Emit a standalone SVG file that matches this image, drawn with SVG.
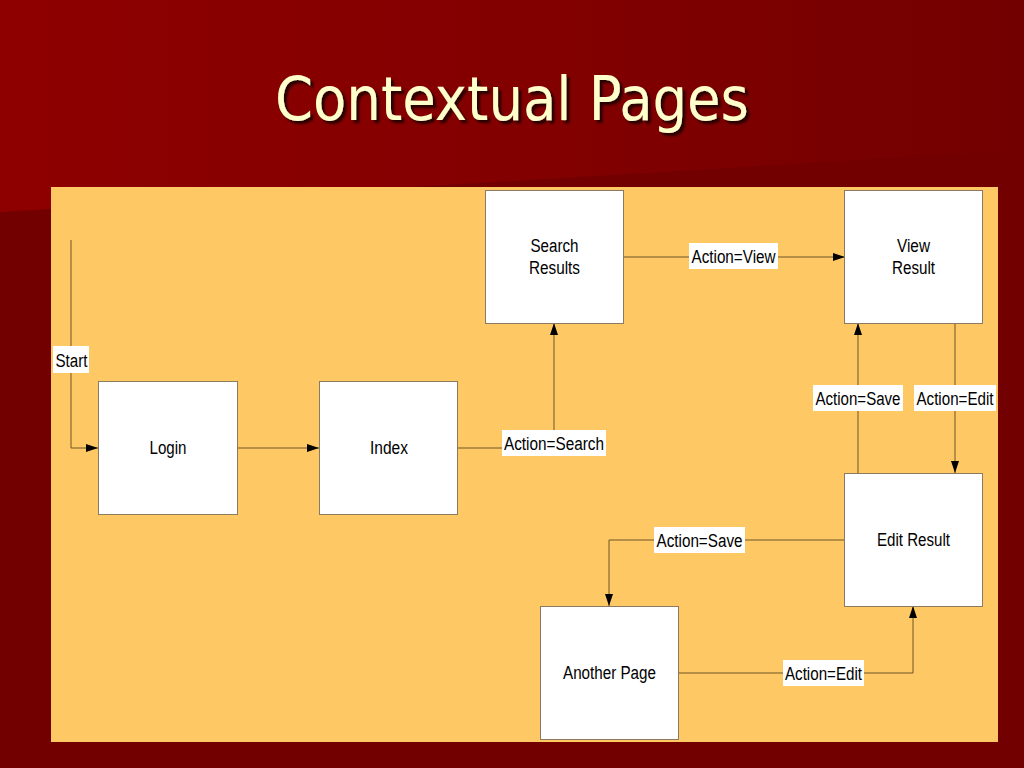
<svg xmlns="http://www.w3.org/2000/svg" width="1024" height="768" viewBox="0 0 1024 768">
<defs>
<linearGradient id="topg" x1="0" y1="0" x2="1" y2="0">
<stop offset="0" stop-color="#8e0000"/>
<stop offset="0.5" stop-color="#830000"/>
<stop offset="1" stop-color="#730000"/>
</linearGradient>
<marker id="arr" viewBox="0 0 12 8" refX="12" refY="4" markerWidth="12" markerHeight="8" markerUnits="userSpaceOnUse" orient="auto">
<path d="M0,0 L12,4 L0,8 Z" fill="#000"/>
</marker>
<filter id="sh" x="-5%" y="-20%" width="110%" height="140%">
<feDropShadow dx="3" dy="3" stdDeviation="1" flood-color="#1a0000" flood-opacity="0.9"/>
</filter>
</defs>
<style>
.node rect{fill:#ffffff;stroke:#8c7a60;stroke-width:1}
.node text{font-family:"Liberation Sans",Arial,sans-serif;font-size:18px;fill:#000;text-anchor:middle}
.conn path{fill:none;stroke:#6e5428;stroke-width:1}
.lbl rect{fill:#ffffff}
.lbl text{font-family:"Liberation Sans",Arial,sans-serif;font-size:18px;fill:#000;text-anchor:middle}
</style>
<rect width="1024" height="768" fill="#730000"/>
<path d="M0,0 H1024 V150 L0,212 Z" fill="url(#topg)"/>
<text x="512" y="120" font-family="'DejaVu Sans',Verdana,sans-serif" font-size="60" fill="#ffffcc" text-anchor="middle" textLength="474" lengthAdjust="spacingAndGlyphs" filter="url(#sh)">Contextual Pages</text>
<rect x="51" y="187" width="947" height="555" fill="#fec965"/>

<g id="connectors" class="conn">
<path d="M71,240 V448 H98" marker-end="url(#arr)"/>
<path d="M237,448 H319" marker-end="url(#arr)"/>
<path d="M457,448 H554 V323" marker-end="url(#arr)"/>
<path d="M623,257 H845" marker-end="url(#arr)"/>
<path d="M858,473 V323" marker-end="url(#arr)"/>
<path d="M955,323 V473" marker-end="url(#arr)"/>
<path d="M845,540 H609 V606" marker-end="url(#arr)"/>
<path d="M678,673 H913 V606" marker-end="url(#arr)"/>
</g>

<g id="labels" class="lbl">
<g id="lbl-start"><rect x="53" y="346" width="36" height="27"/><text x="71.5" y="367" textLength="32" lengthAdjust="spacingAndGlyphs">Start</text></g>
<g id="lbl-search"><rect x="502" y="430" width="104" height="26"/><text x="554" y="450" textLength="100" lengthAdjust="spacingAndGlyphs">Action=Search</text></g>
<g id="lbl-view"><rect x="689" y="243" width="89" height="26"/><text x="733.5" y="263" textLength="84" lengthAdjust="spacingAndGlyphs">Action=View</text></g>
<g id="lbl-save1"><rect x="813" y="385" width="90" height="26"/><text x="858" y="405" textLength="85" lengthAdjust="spacingAndGlyphs">Action=Save</text></g>
<g id="lbl-edit1"><rect x="914" y="385" width="82" height="26"/><text x="955" y="405" textLength="77" lengthAdjust="spacingAndGlyphs">Action=Edit</text></g>
<g id="lbl-save2"><rect x="654" y="527" width="91" height="26"/><text x="699.5" y="547" textLength="86" lengthAdjust="spacingAndGlyphs">Action=Save</text></g>
<g id="lbl-edit2"><rect x="783" y="660" width="81" height="26"/><text x="823.5" y="680" textLength="77" lengthAdjust="spacingAndGlyphs">Action=Edit</text></g>
</g>

<g id="node-search" class="node"><rect x="485.5" y="190.5" width="138" height="133"/><text x="554.5" y="252" textLength="48" lengthAdjust="spacingAndGlyphs">Search</text><text x="554.5" y="274" textLength="51" lengthAdjust="spacingAndGlyphs">Results</text></g>
<g id="node-view" class="node"><rect x="844.5" y="190.5" width="138" height="133"/><text x="913.5" y="252" textLength="33" lengthAdjust="spacingAndGlyphs">View</text><text x="913.5" y="274" textLength="43" lengthAdjust="spacingAndGlyphs">Result</text></g>
<g id="node-login" class="node"><rect x="98.5" y="381.5" width="139" height="133"/><text x="168" y="454" textLength="37" lengthAdjust="spacingAndGlyphs">Login</text></g>
<g id="node-index" class="node"><rect x="319.5" y="381.5" width="138" height="133"/><text x="389" y="454" textLength="38" lengthAdjust="spacingAndGlyphs">Index</text></g>
<g id="node-edit" class="node"><rect x="844.5" y="473.5" width="138" height="133"/><text x="913.5" y="546" textLength="73" lengthAdjust="spacingAndGlyphs">Edit Result</text></g>
<g id="node-another" class="node"><rect x="540.5" y="606.5" width="138" height="133"/><text x="609.5" y="679" textLength="93" lengthAdjust="spacingAndGlyphs">Another Page</text></g>
</svg>
